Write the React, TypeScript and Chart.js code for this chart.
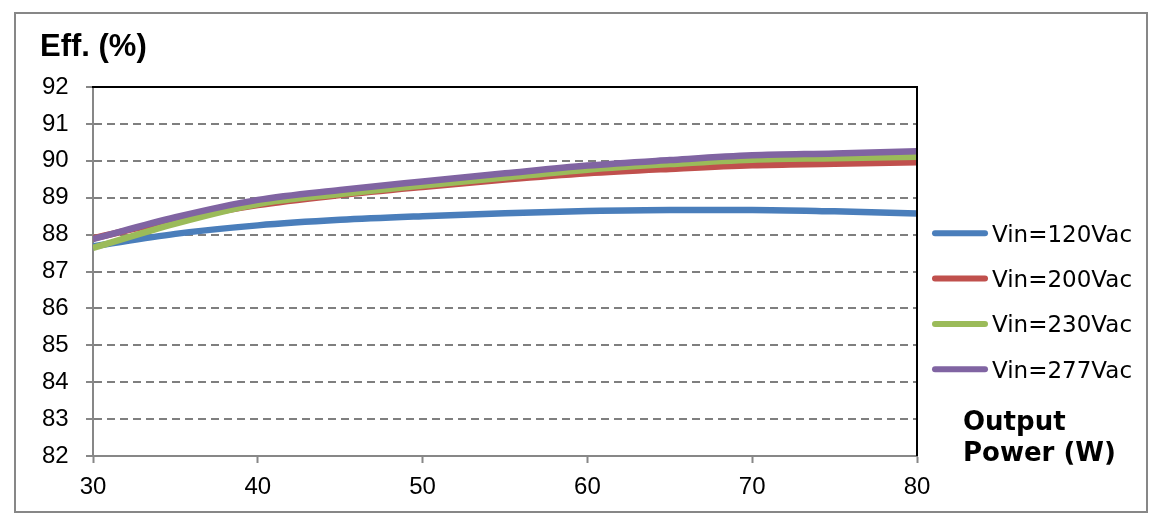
import { useEffect, useRef } from "react"
import { Chart, registerables, type Plugin, type ChartConfiguration } from "chart.js"

Chart.register(...registerables)

// Output power (W) sample points
const outputPower = [30, 35, 40, 45, 50, 55, 60, 65, 70, 75, 80]

// Efficiency (%) per input voltage
const eff120 = [87.68, 88.02, 88.25, 88.4, 88.5, 88.58, 88.64, 88.67, 88.67, 88.63, 88.57]
const eff200 = [87.9, 88.4, 88.8, 89.07, 89.29, 89.49, 89.66, 89.78, 89.88, 89.92, 89.96]
const eff230 = [87.64, 88.3, 88.83, 89.1, 89.33, 89.55, 89.76, 89.91, 90.03, 90.07, 90.11]
const eff277 = [87.88, 88.47, 88.94, 89.21, 89.44, 89.66, 89.87, 90.02, 90.15, 90.2, 90.26]

const seriesLabels = ["Vin=120Vac", "Vin=200Vac", "Vin=230Vac", "Vin=277Vac"]
const seriesColors = ["#4a7ebb", "#c0504d", "#9bbb59", "#8064a2"]
const seriesData = [eff120, eff200, eff230, eff277]

const yTitle = "Eff. (%)"
const xTitle = ["Output", "Power (W)"]

const tickFont = { family: "'Liberation Sans', Arial, sans-serif", size: 24 }
const axisGrey = "#878787"

// frame, axis titles and the side legend
const decorPlugin: Plugin<"line"> = {
  id: "decor",
  afterDraw(chart) {
    const { ctx, chartArea: a } = chart
    ctx.save()

    // outer grey frame
    ctx.strokeStyle = axisGrey
    ctx.lineWidth = 2
    ctx.strokeRect(15, 13, 1132, 499)

    // black top & right edge of the plot area
    ctx.strokeStyle = "#000"
    ctx.beginPath()
    ctx.moveTo(a.left - 1, a.top)
    ctx.lineTo(a.right, a.top)
    ctx.lineTo(a.right, a.bottom)
    ctx.stroke()

    ctx.fillStyle = "#000"
    ctx.textAlign = "left"
    ctx.textBaseline = "alphabetic"
    ctx.font = "bold 31px 'Liberation Sans', Arial, sans-serif"
    ctx.fillText(yTitle, 40, 56)

    ctx.font = "bold 26px 'DejaVu Sans', sans-serif"
    ctx.fillText(xTitle[0], 963, 430)
    ctx.fillText(xTitle[1], 963, 461)

    // legend
    ctx.font = "23px 'DejaVu Sans', sans-serif"
    ctx.lineCap = "round"
    ctx.lineWidth = 6
    seriesLabels.forEach((label, i) => {
      const y = 233.3 + i * 45.3
      ctx.strokeStyle = seriesColors[i]
      ctx.beginPath()
      ctx.moveTo(935, y)
      ctx.lineTo(985, y)
      ctx.stroke()
      ctx.fillText(label, 992, y + 8.4)
    })

    ctx.restore()
  },
}

export default function App() {
  const canvasRef = useRef<HTMLCanvasElement>(null)
  const chartRef = useRef<Chart | null>(null)

  useEffect(() => {
    if (!canvasRef.current) return
    if (chartRef.current) chartRef.current.destroy()

    const config: ChartConfiguration<"line"> = {
      type: "line",
      data: {
        datasets: seriesLabels.map((label, i) => ({
          label,
          data: outputPower.map((x, j) => ({ x, y: seriesData[i][j] })),
          borderColor: seriesColors[i],
          backgroundColor: seriesColors[i],
          borderWidth: 6.5,
          pointRadius: 0,
          cubicInterpolationMode: "monotone" as const,
          order: seriesLabels.length - i,
        })),
      },
      options: {
        responsive: false,
        animation: false,
        layout: { padding: { top: 87, right: 239, left: 42, bottom: 0 } },
        scales: {
          x: {
            type: "linear",
            min: 30,
            max: 80,
            ticks: { stepSize: 10, padding: 10, color: "#000", font: tickFont },
            grid: { drawOnChartArea: false, tickLength: 7, tickColor: axisGrey, tickWidth: 2 },
            border: { color: axisGrey, width: 2 },
            afterFit: (s) => {
              s.height = 75
            },
          },
          y: {
            min: 82,
            max: 92,
            // labels start at the scale's left edge (x = 42)
            ticks: { stepSize: 1, crossAlign: "far", color: "#000", font: tickFont },
            grid: {
              color: (c) =>
                c.tick && (c.tick.value === 82 || c.tick.value === 92) ? "rgba(0,0,0,0)" : "#7f7f7f",
              lineWidth: 2,
              tickLength: 7,
              tickColor: axisGrey,
              tickWidth: 2,
            },
            border: { color: axisGrey, width: 2, dash: [8, 5] },
            afterFit: (s) => {
              s.width = 51
            },
          },
        },
        plugins: {
          legend: { display: false },
          tooltip: { enabled: false },
        },
      },
      plugins: [decorPlugin],
    }

    chartRef.current = new Chart(canvasRef.current, config)

    return () => {
      if (chartRef.current) {
        chartRef.current.destroy()
        chartRef.current = null
      }
    }
  }, [])

  return (
    <div style={{ position: "fixed", left: 0, top: 0, width: 1156, height: 531, background: "#fff" }}>
      <canvas ref={canvasRef} width={1156} height={531} style={{ width: 1156, height: 531 }} />
    </div>
  )
}
